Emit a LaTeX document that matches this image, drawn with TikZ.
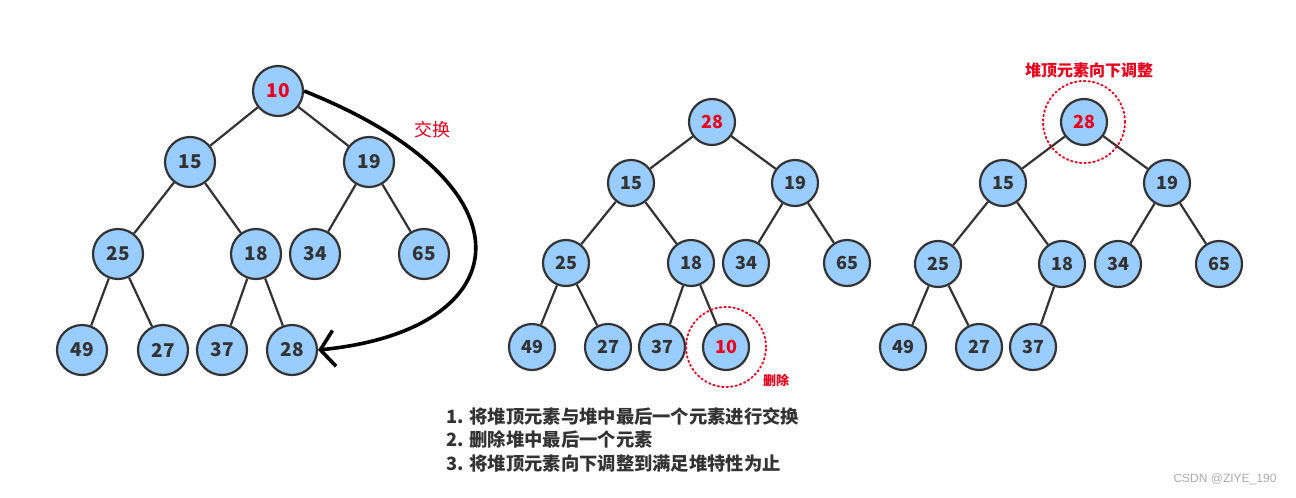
\documentclass[tikz,border=0pt]{standalone}
\usepackage{fontspec}
\setmainfont{Noto Sans CJK SC}
\newfontfamily\cjk{Noto Sans CJK SC}
\newfontfamily\wmfont{Liberation Sans}
\usetikzlibrary{arrows.meta}
\definecolor{nodeblue}{RGB}{153,204,255}
\definecolor{edgegray}{RGB}{51,51,51}
\definecolor{hred}{RGB}{232,0,28}
\definecolor{txtgray}{RGB}{51,51,51}
\tikzset{
  hnode/.style={circle, fill=nodeblue, draw=edgegray, line width=2.2pt, inner sep=0pt,
    minimum size=46pt, font=\cjk\bfseries\fontsize{18}{18}\selectfont, text=edgegray},
  hnodeA/.style={hnode, minimum size=50pt, font=\cjk\bfseries\fontsize{19}{19}\selectfont},
  redtxt/.style={text=hred},
  hedge/.style={draw=edgegray, line width=2.2pt},
  dotring/.style={draw=hred, line width=1.9pt, dash pattern=on 1.5pt off 3pt, line cap=round, circle, inner sep=0pt},
  steptxt/.style={anchor=west, text=txtgray, font=\cjk\bfseries\fontsize{18.3}{18.3}\selectfont}
}
\begin{document}
\begin{tikzpicture}[x=1pt,y=-1pt]
\useasboundingbox (0,0) rectangle (1296,498);
% ---------- Tree 1 ----------
\node[hnodeA, redtxt] (a10) at (278,91) {10};
\node[hnodeA] (a15) at (190,162) {15};
\node[hnodeA] (a19) at (369,162) {19};
\node[hnodeA] (a25) at (118,254) {25};
\node[hnodeA] (a18) at (256,254) {18};
\node[hnodeA] (a34) at (315,254) {34};
\node[hnodeA] (a65) at (424,254) {65};
\node[hnodeA] (a49) at (82,350) {49};
\node[hnodeA] (a27) at (163,350) {27};
\node[hnodeA] (a37) at (222,350) {37};
\node[hnodeA] (a28) at (292,350) {28};
\draw[hedge] (a10) -- (a15);
\draw[hedge] (a10) -- (a19);
\draw[hedge] (a15) -- (a25);
\draw[hedge] (a15) -- (a18);
\draw[hedge] (a19) -- (a34);
\draw[hedge] (a19) -- (a65);
\draw[hedge] (a25) -- (a49);
\draw[hedge] (a25) -- (a27);
\draw[hedge] (a18) -- (a37);
\draw[hedge] (a18) -- (a28);
\draw[line width=3.6pt, -{Straight Barb[length=14pt,width=36pt,line width=3.6pt]}]
  (a10.east) .. controls (540,185) and (520,330) .. (a28.east);
\node[text=hred, font=\cjk\fontsize{18}{18}\selectfont] (swap) at (432,130) {交换};
% ---------- Tree 2 ----------
\node[hnode, redtxt] (b28) at (712,122) {28};
\node[hnode] (b15) at (631,183) {15};
\node[hnode] (b19) at (795,183) {19};
\node[hnode] (b25) at (566,263) {25};
\node[hnode] (b18) at (691,263) {18};
\node[hnode] (b34) at (746,263) {34};
\node[hnode] (b65) at (847,263) {65};
\node[hnode] (b49) at (532,347) {49};
\node[hnode] (b27) at (608,347) {27};
\node[hnode] (b37) at (662,347) {37};
\node[hnode, redtxt] (b10) at (726,347) {10};
\draw[hedge] (b28) -- (b15);
\draw[hedge] (b28) -- (b19);
\draw[hedge] (b15) -- (b25);
\draw[hedge] (b15) -- (b18);
\draw[hedge] (b19) -- (b34);
\draw[hedge] (b19) -- (b65);
\draw[hedge] (b25) -- (b49);
\draw[hedge] (b25) -- (b27);
\draw[hedge] (b18) -- (b37);
\draw[hedge] (b18) -- (b10);
\node[dotring, minimum size=80pt] (ringb) at (b10) {};
\node[text=hred, font=\cjk\bfseries\fontsize{13}{13}\selectfont] (del) at (776,381) {删除};
% ---------- Tree 3 ----------
\node[hnode, redtxt] (c28) at (1084,122) {28};
\node[hnode] (c15) at (1003,183) {15};
\node[hnode] (c19) at (1167,183) {19};
\node[hnode] (c25) at (938,264) {25};
\node[hnode] (c18) at (1062,264) {18};
\node[hnode] (c34) at (1118,264) {34};
\node[hnode] (c65) at (1219,264) {65};
\node[hnode] (c49) at (903,347) {49};
\node[hnode] (c27) at (979,347) {27};
\node[hnode] (c37) at (1033,347) {37};
\draw[hedge] (c28) -- (c15);
\draw[hedge] (c28) -- (c19);
\draw[hedge] (c15) -- (c25);
\draw[hedge] (c15) -- (c18);
\draw[hedge] (c19) -- (c34);
\draw[hedge] (c19) -- (c65);
\draw[hedge] (c25) -- (c49);
\draw[hedge] (c25) -- (c27);
\draw[hedge] (c18) -- (c37);
\node[dotring, minimum size=82pt] (ringc) at (c28) {};
\node[text=hred, font=\cjk\bfseries\fontsize{16}{16}\selectfont] (adj) at (1089,70) {堆顶元素向下调整};
% ---------- Steps ----------
\node[steptxt] (s1) at (443,416) {1. 将堆顶元素与堆中最后一个元素进行交换};
\node[steptxt] (s2) at (443,440) {2. 删除堆中最后一个元素};
\node[steptxt] (s3) at (443,464) {3. 将堆顶元素向下调整到满足堆特性为止};
% ---------- Watermark ----------
\node[text={rgb,255:red,170;green,170;blue,170}, font=\wmfont\fontsize{12}{12}\selectfont] (wm) at (1225,479) {CSDN @ZIYE\_190};
\end{tikzpicture}
\end{document}
